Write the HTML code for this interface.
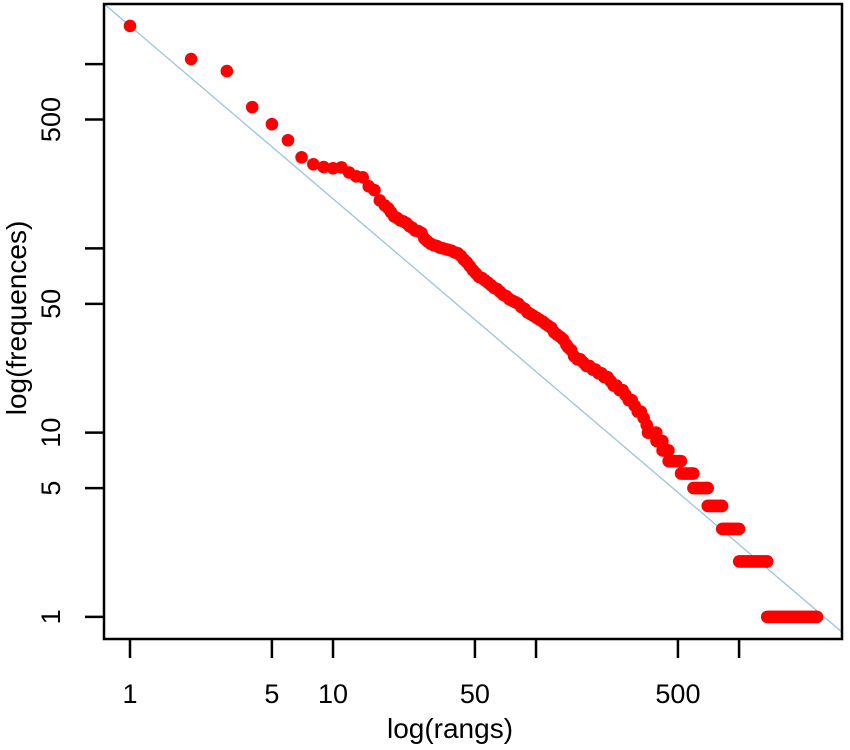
<!DOCTYPE html>
<html><head><meta charset="utf-8"><style>
html,body{margin:0;padding:0;background:#fff;}
svg{display:block;font-family:"Liberation Sans",Arial,sans-serif;}
</style></head><body>
<svg id="chart" width="850" height="750" viewBox="0 0 850 750">
<g id="marks"></g>
<g id="axes"></g>
</svg>
<script>
// head of distribution: ranks read individually
const headRanks = [1,2,3,4,5,6,7,8,9,10,11,12,13,14,15,16,17,
18,18.7,19.3,20,20.7,21.4,22.2,23,23.8,24.6,25.4,26.3,27.3,28.2,29.2,30.2,31.3,32.4,33.5,34.7,35.9,37.1,38.4,39.8,41.2,42.6,44.1,45.6,47.2,48.9,50.6,52.4,54.2,56.1,58.1,60.1,62.2,64.4,66.6,68.9,71.4,73.9,76.4,79.1,81.9,84.7,87.7,90.7,93.9,97.2,100.6,104,108,111,115,119,123,127,132,136,141,144,149,154,160,165,171,177,183,190,196,203,210,217,225,233,241,249,258,267,276,286,296,306,317,328,339,351];
const headFreqs = [1610,1065,916,584,472,386,312,286,276,272,275,258,246,243,217,207,182,
171,165,157,149,146,142,140,137,132,129,125,124,121,113,109,106,104,103,101,100,99,98,97,95,94,91,87,84,80,76,73,70,69,67,65,63,61,60,58,56,55,53,52,51,50,48,47,45,44,43,42,41,40,39,38,37,35,34,33,32,30,29,28,26,25,25,24,23,23,22,22,21,21,20,20,19,18,18,17,17,16,15,15,14,13,13,12,11];
// tail: plateaus of equal frequency
const runFreqs = [10,9,8,7,6,5,4,3,2,1];
const runStart = [356,392,420,450,518,596,701,826,1001,1376];
const runEnd   = [391,419,449,517,595,700,825,1000,1375,2420];
// reference line (log10 f = log10 a + b log10 r)
const lineIntercept = 1610;
const lineSlope = -0.938;
const xTicks = [1,5,10,50,100,500,1000];
const xTickLabels = ["1","5","10","50","","500",""];
const yTicks = [1,5,10,50,100,500,1000];
const yTickLabels = ["1","5","10","50","","500",""];

const L=104,R=842,T=4,B=639;
const xLmin=-0.128,xLmax=3.507,yLmin=-0.12,yLmax=3.326;
const xs=r=>L+(Math.log10(r)-xLmin)/(xLmax-xLmin)*(R-L);
const ys=f=>B-(Math.log10(f)-yLmin)/(yLmax-yLmin)*(B-T);
const NS="http://www.w3.org/2000/svg";
const marks=document.getElementById('marks'), axes=document.getElementById('axes');
function mk(tag,attrs,parent){const e=document.createElementNS(NS,tag);for(const k in attrs)e.setAttribute(k,attrs[k]);parent.appendChild(e);return e;}
const PR=6.3;

const defs=mk('defs',{},marks);
const cp=mk('clipPath',{id:'clip'},defs);
mk('rect',{x:L,y:T,width:R-L,height:B-T},cp);

const r0=Math.pow(10,xLmin), r1=Math.pow(10,xLmax);
const ln=mk('line',{x1:xs(r0),y1:ys(lineIntercept*Math.pow(r0,lineSlope)),x2:xs(r1),y2:ys(lineIntercept*Math.pow(r1,lineSlope)),stroke:'#9cc3e0','stroke-width':1.3,'clip-path':'url(#clip)'},marks);



for(let i=0;i<headRanks.length;i++){
  const c=mk('circle',{cx:xs(headRanks[i]),cy:ys(headFreqs[i]),r:PR,fill:'#ff0000'},marks);
  
  
}
for(let j=0;j<runFreqs.length;j++){
  let lastX=-99;
  for(let r=runStart[j];r<=runEnd[j];r++){
    const x=xs(r);
    if(x-lastX<1.5 && r!==runEnd[j]) continue;
    lastX=x;
    const c=mk('circle',{cx:x,cy:ys(runFreqs[j]),r:PR,fill:'#ff0000'},marks);
    
    
  }
}

const box=mk('rect',{x:L,y:T,width:R-L,height:B-T,fill:'none',stroke:'#000','stroke-width':2.5},axes);



for(let i=0;i<xTicks.length;i++){
  const x=xs(xTicks[i]);
  const t=mk('line',{x1:x,y1:B,x2:x,y2:B+19,stroke:'#000','stroke-width':2.5},axes);
  
  
  if(xTickLabels[i]){
    const tx=mk('text',{x:x,y:703,'text-anchor':'middle','font-size':27,fill:'#000'},axes);
    tx.textContent=xTickLabels[i];
    
    
  }
}
for(let i=0;i<yTicks.length;i++){
  const y=ys(yTicks[i]);
  const t=mk('line',{x1:L-19,y1:y,x2:L,y2:y,stroke:'#000','stroke-width':2.5},axes);
  
  
  if(yTickLabels[i]){
    const tx=mk('text',{x:60,y:y,'text-anchor':'middle','font-size':27,fill:'#000',transform:`rotate(-90 60 ${y})`},axes);
    tx.textContent=yTickLabels[i];
    
    
  }
}
const xt=mk('text',{x:450,y:738,'text-anchor':'middle','font-size':28,fill:'#000'},axes);
xt.textContent='log(rangs)';


const yt=mk('text',{x:26,y:318,'text-anchor':'middle','font-size':28,fill:'#000',transform:'rotate(-90 26 318)'},axes);
yt.textContent='log(frequences)';


</script>
</body></html>
